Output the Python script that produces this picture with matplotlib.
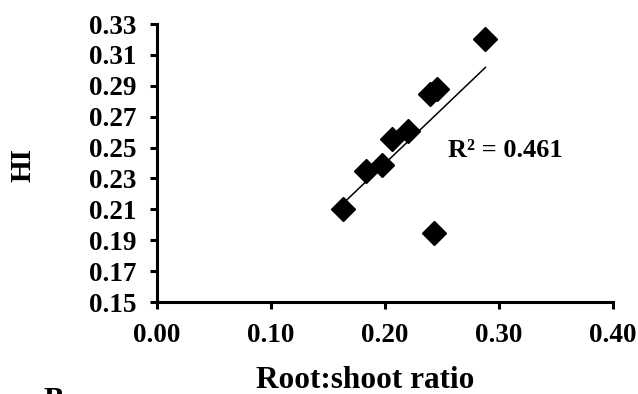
import numpy as np
import matplotlib.pyplot as plt

plt.rcParams['font.family'] = ['Liberation Serif', 'DejaVu Serif']
plt.rcParams['font.weight'] = 'bold'

# root:shoot ratio vs harvest index
root_shoot = [0.163, 0.183, 0.197, 0.206, 0.220, 0.239, 0.246, 0.288, 0.243]
hi = [0.210, 0.235, 0.239, 0.2555, 0.261, 0.285, 0.288, 0.320, 0.195]
r2_label = "R² = 0.461"

x_ticks = [0.0, 0.1, 0.2, 0.3, 0.4]
y_ticks = [0.15, 0.17, 0.19, 0.21, 0.23, 0.25, 0.27, 0.29, 0.31, 0.33]

fig = plt.figure(figsize=(6.38, 3.94), dpi=100)
ax = fig.add_axes([0.246, 0.2335, 0.715, 0.7055])

ax.plot(root_shoot, hi, 'kD', ms=12.7, zorder=3)

# linear trendline
slope, intercept = np.polyfit(root_shoot, hi, 1)
xl = np.array([min(root_shoot), max(root_shoot)])
ax.plot(xl, slope * xl + intercept, 'k-', lw=1.1, zorder=2)

ax.text(0.255, 0.2484, r2_label, fontsize=19, fontweight='bold', ha='left', va='center')

ax.set_xlim(0, 0.4)
ax.set_ylim(0.15, 0.33)
ax.set_xticks(x_ticks)
ax.set_yticks(y_ticks)
ax.set_xticklabels(["%.2f" % v for v in x_ticks])
ax.set_yticklabels(["%.2f" % v for v in y_ticks])

for s in ['top', 'right']:
    ax.spines[s].set_visible(False)
for s in ['left', 'bottom']:
    ax.spines[s].set_linewidth(2.2)
ax.tick_params(direction='out', length=5, width=2.2, labelsize=19.5, pad=10)

ax.set_xlabel("Root:shoot ratio", fontsize=22.5, fontweight='bold')
ax.xaxis.set_label_coords(0.456, -0.232)
ax.set_ylabel("HI", fontsize=21, fontweight='bold')
ax.yaxis.set_label_coords(-0.264, 0.493)

# panel letter, mostly cut off at the bottom edge as in the source figure
fig.text(0.068, -0.055, "B", fontsize=22, fontweight='bold', ha='left', va='bottom')

fig.savefig("out.png", dpi=100)
